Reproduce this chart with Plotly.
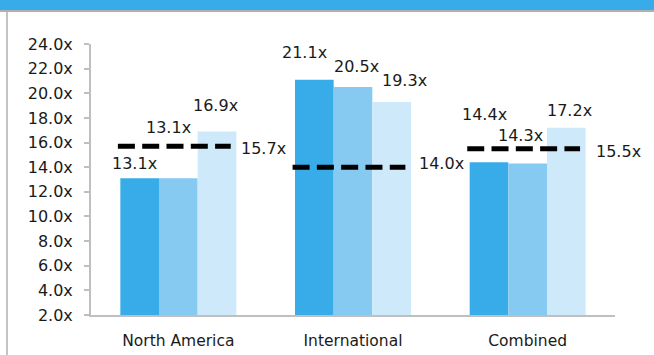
import plotly.graph_objects as go

# ---- data -------------------------------------------------------------
categories = ["North America", "International", "Combined"]
series_a = [13.1, 21.1, 14.4]
series_b = [13.1, 20.5, 14.3]
series_c = [16.9, 19.3, 17.2]
averages = [15.7, 14.0, 15.5]
y_ticks = [2, 4, 6, 8, 10, 12, 14, 16, 18, 20, 22, 24]

# ---- styling ----------------------------------------------------------
W, H = 654, 355
M_L, M_R, M_T, M_B = 91, 39, 44, 40
FONT = "DejaVu Sans"
TEXT = "#1a1a1a"
AXIS = "#bfbfbf"
colors = ["#38abe9", "#86caf2", "#cde9fa"]
BAR_W = 0.2214
offsets = [-BAR_W, 0.0, BAR_W]
LABEL_SIZE = 16

# pixel nudges for the value labels (per category, per bar)
label_shift = [
    [(-5, 15), (-10, 51), (-2, 26)],
    [(-10, 27), (3, 21), (13, 21)],
    [(-5, 48), (-7, 28), (3, 17)],
]
avg_shift = [(2, -2), (5, 4), (8, -3)]

xs = list(range(len(categories)))
fig = go.Figure()

for vals, col, name in zip([series_a, series_b, series_c], colors,
                           ["Series A", "Series B", "Series C"]):
    fig.add_trace(go.Bar(x=xs, y=vals, name=name, marker_color=col,
                         marker_line_width=0, hoverinfo="skip"))

# dashed average markers across each group
for i, avg in enumerate(averages):
    fig.add_trace(go.Scatter(
        x=[i - 0.346, i + 0.300], y=[avg, avg], mode="lines",
        line=dict(color="black", width=5, dash="17px,7.3px"),
        showlegend=False, hoverinfo="skip"))

annotations = []
for i in xs:
    for j, vals in enumerate([series_a, series_b, series_c]):
        dx, dy = label_shift[i][j]
        annotations.append(dict(
            x=i + offsets[j], y=vals[i], text=f"{vals[i]:.1f}x",
            showarrow=False, xanchor="center", yanchor="middle",
            xshift=dx, yshift=dy,
            font=dict(family=FONT, size=LABEL_SIZE, color=TEXT)))
    dx, dy = avg_shift[i]
    annotations.append(dict(
        x=i + 0.335, y=averages[i], text=f"{averages[i]:.1f}x",
        showarrow=False, xanchor="left", yanchor="middle",
        xshift=dx, yshift=dy,
        font=dict(family=FONT, size=LABEL_SIZE, color=TEXT)))

plot_h = H - M_T - M_B
plot_w = W - M_L - M_R


def py(pix):
    """Convert a pixel row (from the top of the page) to paper y."""
    return (H - M_B - pix) / plot_h


def px(pix):
    """Convert a pixel column to paper x."""
    return (pix - M_L) / plot_w


shapes = [
    # header band
    dict(type="rect", xref="paper", yref="paper", x0=px(0), x1=px(W),
         y0=py(10), y1=py(0), fillcolor="#38abe9", line_width=0, layer="below"),
    # thin grey rule under the band
    dict(type="rect", xref="paper", yref="paper", x0=px(0), x1=px(W),
         y0=py(12), y1=py(10), fillcolor="#b0b0b0", line_width=0, layer="below"),
    # left frame edge
    dict(type="rect", xref="paper", yref="paper", x0=px(6), x1=px(8),
         y0=py(H), y1=py(12), fillcolor="#c4c4c4", line_width=0, layer="below"),
]

fig.update_layout(
    width=W, height=H,
    margin=dict(l=M_L, r=M_R, t=M_T, b=M_B, pad=0, autoexpand=False),
    paper_bgcolor="white", plot_bgcolor="white",
    barmode="group", bargap=0.336, bargroupgap=0,
    showlegend=False,
    font=dict(family=FONT, size=15, color=TEXT),
    annotations=annotations, shapes=shapes,
    xaxis=dict(range=[-0.5, 2.5], tickmode="array", tickvals=xs,
               ticktext=categories, showgrid=False, zeroline=False,
               showline=True, linecolor=AXIS, linewidth=2, ticks="",
               ticklabelstandoff=10, automargin=False,
               tickfont=dict(family=FONT, size=15.5, color=TEXT)),
    yaxis=dict(range=[2, 24], tickmode="array", tickvals=y_ticks,
               ticktext=[f"{v:.1f}x" for v in y_ticks],
               showgrid=False, zeroline=False, showline=True,
               linecolor=AXIS, linewidth=2, ticks="outside", ticklen=5,
               tickwidth=2, tickcolor=AXIS, ticklabelstandoff=8,
               automargin=False,
               tickfont=dict(family=FONT, size=16, color=TEXT)),
)

fig.write_html("out.html")
